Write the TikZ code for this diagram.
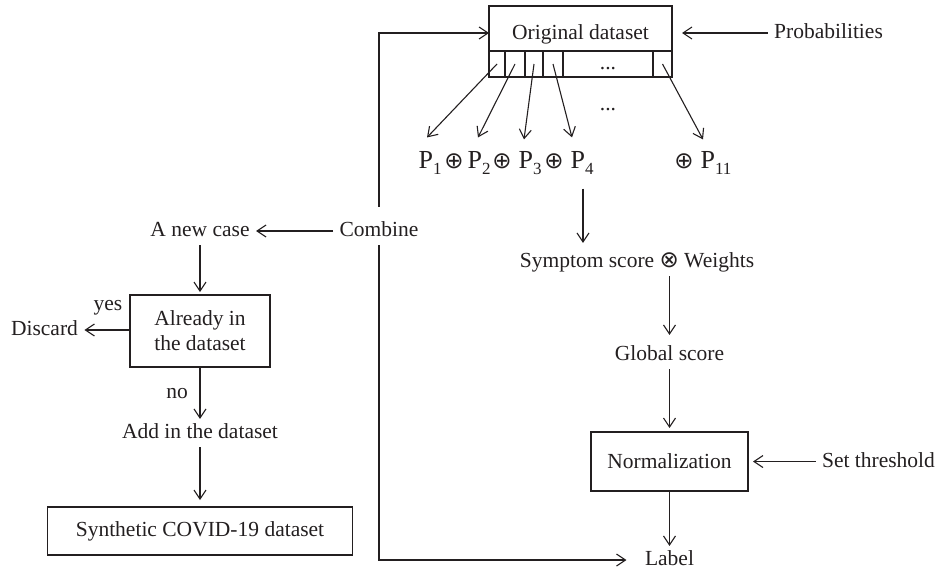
\documentclass[tikz,border=0pt]{standalone}
\usepackage{fontspec}
\setmainfont{Liberation Serif}
\newfontfamily\opfont{DejaVu Sans}
\usetikzlibrary{arrows.meta,calc}
\definecolor{ink}{HTML}{231F20}
% probability term with a lowered index
\newcommand{\Pterm}[1]{P\raisebox{-6pt}{\fontsize{17}{17}\selectfont #1}}

\begin{document}
\begin{tikzpicture}[x=1pt,y=-1pt,line width=1.1pt,color=ink,
  font=\fontsize{21.5}{25}\selectfont,
  lbl/.style={inner xsep=6pt,inner ysep=4pt,text height=15pt,text depth=4pt},
  box/.style={draw,inner sep=0pt,outer sep=0pt,align=center},
  arr/.style={-{Straight Barb[length=9pt,width=12pt]}},
  pterm/.style={inner sep=0pt,font=\fontsize{26}{26}\selectfont,anchor=base west},
  opl/.style={inner sep=0pt,font=\opfont\fontsize{23}{23}\selectfont},
  dots/.style={text height=10pt,text depth=0pt}]
\useasboundingbox (0,0) rectangle (936,573);

% ---- original dataset with its attribute strip
\node[box,minimum width=183pt,minimum height=45pt,text height=21pt,text depth=0pt]
  (orig) at (580.5,28.5) {Original dataset};
\node[box,minimum width=16pt,minimum height=26pt] (c1) at (497,64) {};
\node[box,minimum width=20pt,minimum height=26pt] (c2) at (515,64) {};
\node[box,minimum width=18pt,minimum height=26pt] (c3) at (534,64) {};
\node[box,minimum width=20pt,minimum height=26pt] (c4) at (553,64) {};
\node[box,dots,minimum width=90pt,minimum height=26pt] (c5) at (608,64) {...};
\node[box,minimum width=19pt,minimum height=26pt] (c6) at (662.5,64) {};
\node[inner sep=0pt,dots] (mdots) at (608,105) {...};

\node[lbl] (prob) at (828.5,33) {Probabilities};
\draw[arr,shorten >=10pt] (prob.west) -- (prob.west -| orig.east);

% ---- sum of the probabilities
\node[pterm] (p1) at (418,168) {\Pterm{1}};
\node[opl] (o1) at (454,161) {⊕};
\node[pterm] (p2) at (467,168) {\Pterm{2}};
\node[opl] (o2) at (502,161) {⊕};
\node[pterm] (p3) at (518,168) {\Pterm{3}};
\node[opl] (o3) at (554,161) {⊕};
\node[pterm] (p4) at (570,168) {\Pterm{4}};
\node[opl] (o4) at (684,161) {⊕};
\node[pterm] (p11) at (700,168) {\Pterm{11}};

\draw[arr] (c1.center) -- ($(p1.north west)+(9,-13)$);
\draw[arr] (c2.center) -- ($(p2.north west)+(11,-13)$);
\draw[arr] (c3.center) -- ($(p3.north west)+(6,-11)$);
\draw[arr] (c4.center) -- ($(p4.north west)+(2,-13)$);
\draw[arr] (c6.center) -- ($(p11.north west)+(3,-11)$);

% ---- scoring chain
\node[lbl] (sym) at (637,262) {Symptom score {\opfont\fontsize{23}{23}\selectfont ⊗} Weights};
\coordinate (psum) at ($(p4.south west)+(13,14)$);
\draw[arr,shorten >=5pt] (psum) -- (psum |- sym.north);

\node[lbl] (glob) at (669.5,355) {Global score};
\draw[arr,shorten >=6pt] (glob.north |- sym.south) -- (glob.north);

\node[box,minimum width=157pt,minimum height=59pt] (norm) at (669.5,461.5) {Normalization};
\draw[arr,shorten >=4pt] (glob) -- (norm);

\node[lbl] (thr) at (878.5,461.5) {Set threshold};
\draw[arr,shorten >=5pt] (thr.west) -- (thr.west -| norm.east);

\node[lbl] (label) at (669.5,560) {Label};
\draw[arr] (norm) -- (label);

% ---- combination loop
\node[lbl] (comb) at (379,231) {Combine};
\draw[arr] ([yshift=10pt]comb.north) |- (prob.west -| orig.west);
\draw[arr] (comb.south) |- ([xshift=-12pt]label.west);

% ---- generation of new cases
\node[lbl] (new) at (200,231) {A new case};
\draw[arr] (comb) -- (new);

\node[box,minimum width=140pt,minimum height=72pt] (dup) at (200,331) {Already in\\the dataset};
\draw[arr,shorten >=3pt] (new) -- (dup);

\node[lbl] (disc) at (44.5,330) {Discard};
\node[lbl] (yes) at (108,305) {yes};
\draw[arr] (disc.east -| dup.west) -- (disc.east);

\node[lbl] (add) at (200,433) {Add in the dataset};
\node[lbl] (no) at (177,393) {no};
\draw[arr] (dup) -- (add);

\node[box,minimum width=305pt,minimum height=48pt] (syn) at (200,531) {Synthetic COVID-19 dataset};
\draw[arr,shorten >=7pt] (add) -- (syn);
\end{tikzpicture}
\end{document}
